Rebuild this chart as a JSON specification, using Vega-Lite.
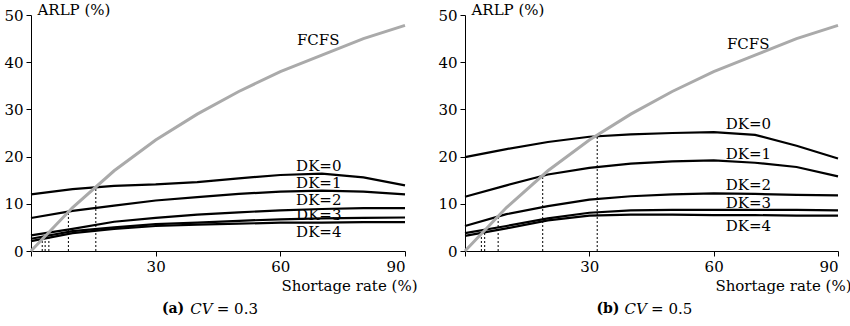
{
  "$schema": "https://vega.github.io/schema/vega-lite/v6.json",
  "padding": {"left": 3, "top": 2, "right": 2, "bottom": 2},
  "spacing": 20,
  "config": {
    "view": {"stroke": null},
    "font": "DejaVu Serif",
    "axis": {
      "domainColor": "black", "tickColor": "black", "labelColor": "black", "titleColor": "black",
      "labelFont": "DejaVu Serif", "titleFont": "DejaVu Serif", "labelFontSize": 15, "titleFontSize": 15,
      "titleFontWeight": "normal", "grid": false, "tickSize": 5, "labelPadding": 3, "domainWidth": 1, "tickWidth": 1
    },
    "text": {"font": "DejaVu Serif", "color": "black"}
  },
  "datasets": {
    "lines": [
      {"panel": "a", "series": "FCFS", "x": 0, "y": 0}, {"panel": "a", "series": "FCFS", "x": 10, "y": 9.2}, {"panel": "a", "series": "FCFS", "x": 20, "y": 17.0}, {"panel": "a", "series": "FCFS", "x": 30, "y": 23.5}, {"panel": "a", "series": "FCFS", "x": 40, "y": 29.0}, {"panel": "a", "series": "FCFS", "x": 50, "y": 33.8}, {"panel": "a", "series": "FCFS", "x": 60, "y": 38.0}, {"panel": "a", "series": "FCFS", "x": 70, "y": 41.5}, {"panel": "a", "series": "FCFS", "x": 80, "y": 45.0}, {"panel": "a", "series": "FCFS", "x": 90, "y": 47.8},
      {"panel": "a", "series": "DK=0", "x": 0, "y": 12.0}, {"panel": "a", "series": "DK=0", "x": 10, "y": 13.1}, {"panel": "a", "series": "DK=0", "x": 20, "y": 13.8}, {"panel": "a", "series": "DK=0", "x": 30, "y": 14.1}, {"panel": "a", "series": "DK=0", "x": 40, "y": 14.6}, {"panel": "a", "series": "DK=0", "x": 50, "y": 15.4}, {"panel": "a", "series": "DK=0", "x": 60, "y": 16.1}, {"panel": "a", "series": "DK=0", "x": 70, "y": 16.4}, {"panel": "a", "series": "DK=0", "x": 80, "y": 15.6}, {"panel": "a", "series": "DK=0", "x": 90, "y": 13.9},
      {"panel": "a", "series": "DK=1", "x": 0, "y": 7.0}, {"panel": "a", "series": "DK=1", "x": 10, "y": 8.5}, {"panel": "a", "series": "DK=1", "x": 20, "y": 9.6}, {"panel": "a", "series": "DK=1", "x": 30, "y": 10.7}, {"panel": "a", "series": "DK=1", "x": 40, "y": 11.4}, {"panel": "a", "series": "DK=1", "x": 50, "y": 12.1}, {"panel": "a", "series": "DK=1", "x": 60, "y": 12.6}, {"panel": "a", "series": "DK=1", "x": 70, "y": 12.8}, {"panel": "a", "series": "DK=1", "x": 80, "y": 12.6}, {"panel": "a", "series": "DK=1", "x": 90, "y": 12.0},
      {"panel": "a", "series": "DK=2", "x": 0, "y": 3.3}, {"panel": "a", "series": "DK=2", "x": 10, "y": 4.7}, {"panel": "a", "series": "DK=2", "x": 20, "y": 6.2}, {"panel": "a", "series": "DK=2", "x": 30, "y": 7.0}, {"panel": "a", "series": "DK=2", "x": 40, "y": 7.7}, {"panel": "a", "series": "DK=2", "x": 50, "y": 8.2}, {"panel": "a", "series": "DK=2", "x": 60, "y": 8.6}, {"panel": "a", "series": "DK=2", "x": 70, "y": 8.9}, {"panel": "a", "series": "DK=2", "x": 80, "y": 9.1}, {"panel": "a", "series": "DK=2", "x": 90, "y": 9.1},
      {"panel": "a", "series": "DK=3", "x": 0, "y": 2.6}, {"panel": "a", "series": "DK=3", "x": 10, "y": 4.2}, {"panel": "a", "series": "DK=3", "x": 20, "y": 5.0}, {"panel": "a", "series": "DK=3", "x": 30, "y": 5.7}, {"panel": "a", "series": "DK=3", "x": 40, "y": 6.0}, {"panel": "a", "series": "DK=3", "x": 50, "y": 6.4}, {"panel": "a", "series": "DK=3", "x": 60, "y": 6.7}, {"panel": "a", "series": "DK=3", "x": 70, "y": 6.9}, {"panel": "a", "series": "DK=3", "x": 80, "y": 7.0}, {"panel": "a", "series": "DK=3", "x": 90, "y": 7.1},
      {"panel": "a", "series": "DK=4", "x": 0, "y": 2.1}, {"panel": "a", "series": "DK=4", "x": 10, "y": 3.8}, {"panel": "a", "series": "DK=4", "x": 20, "y": 4.7}, {"panel": "a", "series": "DK=4", "x": 30, "y": 5.3}, {"panel": "a", "series": "DK=4", "x": 40, "y": 5.6}, {"panel": "a", "series": "DK=4", "x": 50, "y": 5.8}, {"panel": "a", "series": "DK=4", "x": 60, "y": 6.0}, {"panel": "a", "series": "DK=4", "x": 70, "y": 6.0}, {"panel": "a", "series": "DK=4", "x": 80, "y": 6.1}, {"panel": "a", "series": "DK=4", "x": 90, "y": 6.1},
      {"panel": "b", "series": "FCFS", "x": 0, "y": 0}, {"panel": "b", "series": "FCFS", "x": 10, "y": 9.2}, {"panel": "b", "series": "FCFS", "x": 20, "y": 17.0}, {"panel": "b", "series": "FCFS", "x": 30, "y": 23.5}, {"panel": "b", "series": "FCFS", "x": 40, "y": 29.0}, {"panel": "b", "series": "FCFS", "x": 50, "y": 33.8}, {"panel": "b", "series": "FCFS", "x": 60, "y": 38.0}, {"panel": "b", "series": "FCFS", "x": 70, "y": 41.5}, {"panel": "b", "series": "FCFS", "x": 80, "y": 45.0}, {"panel": "b", "series": "FCFS", "x": 90, "y": 47.8},
      {"panel": "b", "series": "DK=0", "x": 0, "y": 19.9}, {"panel": "b", "series": "DK=0", "x": 10, "y": 21.6}, {"panel": "b", "series": "DK=0", "x": 20, "y": 23.1}, {"panel": "b", "series": "DK=0", "x": 30, "y": 24.2}, {"panel": "b", "series": "DK=0", "x": 40, "y": 24.7}, {"panel": "b", "series": "DK=0", "x": 50, "y": 25.0}, {"panel": "b", "series": "DK=0", "x": 60, "y": 25.2}, {"panel": "b", "series": "DK=0", "x": 70, "y": 24.6}, {"panel": "b", "series": "DK=0", "x": 80, "y": 22.3}, {"panel": "b", "series": "DK=0", "x": 90, "y": 19.6},
      {"panel": "b", "series": "DK=1", "x": 0, "y": 11.5}, {"panel": "b", "series": "DK=1", "x": 10, "y": 13.9}, {"panel": "b", "series": "DK=1", "x": 20, "y": 16.2}, {"panel": "b", "series": "DK=1", "x": 30, "y": 17.6}, {"panel": "b", "series": "DK=1", "x": 40, "y": 18.5}, {"panel": "b", "series": "DK=1", "x": 50, "y": 19.0}, {"panel": "b", "series": "DK=1", "x": 60, "y": 19.2}, {"panel": "b", "series": "DK=1", "x": 70, "y": 18.7}, {"panel": "b", "series": "DK=1", "x": 80, "y": 17.8}, {"panel": "b", "series": "DK=1", "x": 90, "y": 15.8},
      {"panel": "b", "series": "DK=2", "x": 0, "y": 5.3}, {"panel": "b", "series": "DK=2", "x": 10, "y": 7.8}, {"panel": "b", "series": "DK=2", "x": 20, "y": 9.5}, {"panel": "b", "series": "DK=2", "x": 30, "y": 10.9}, {"panel": "b", "series": "DK=2", "x": 40, "y": 11.6}, {"panel": "b", "series": "DK=2", "x": 50, "y": 12.0}, {"panel": "b", "series": "DK=2", "x": 60, "y": 12.2}, {"panel": "b", "series": "DK=2", "x": 70, "y": 12.1}, {"panel": "b", "series": "DK=2", "x": 80, "y": 11.9}, {"panel": "b", "series": "DK=2", "x": 90, "y": 11.8},
      {"panel": "b", "series": "DK=3", "x": 0, "y": 3.8}, {"panel": "b", "series": "DK=3", "x": 10, "y": 5.3}, {"panel": "b", "series": "DK=3", "x": 20, "y": 6.9}, {"panel": "b", "series": "DK=3", "x": 30, "y": 8.1}, {"panel": "b", "series": "DK=3", "x": 40, "y": 8.6}, {"panel": "b", "series": "DK=3", "x": 50, "y": 8.7}, {"panel": "b", "series": "DK=3", "x": 60, "y": 8.7}, {"panel": "b", "series": "DK=3", "x": 70, "y": 8.7}, {"panel": "b", "series": "DK=3", "x": 80, "y": 8.7}, {"panel": "b", "series": "DK=3", "x": 90, "y": 8.6},
      {"panel": "b", "series": "DK=4", "x": 0, "y": 3.2}, {"panel": "b", "series": "DK=4", "x": 10, "y": 4.8}, {"panel": "b", "series": "DK=4", "x": 20, "y": 6.5}, {"panel": "b", "series": "DK=4", "x": 30, "y": 7.5}, {"panel": "b", "series": "DK=4", "x": 40, "y": 7.7}, {"panel": "b", "series": "DK=4", "x": 50, "y": 7.7}, {"panel": "b", "series": "DK=4", "x": 60, "y": 7.6}, {"panel": "b", "series": "DK=4", "x": 70, "y": 7.6}, {"panel": "b", "series": "DK=4", "x": 80, "y": 7.5}, {"panel": "b", "series": "DK=4", "x": 90, "y": 7.5}
    ],
    "drops": [
      {"panel": "a", "x": 2.7, "y": 2.5}, {"panel": "a", "x": 3.4, "y": 3.1}, {"panel": "a", "x": 4.3, "y": 4.0}, {"panel": "a", "x": 9.0, "y": 8.3}, {"panel": "a", "x": 15.6, "y": 13.5},
      {"panel": "b", "x": 3.95, "y": 3.6}, {"panel": "b", "x": 4.75, "y": 4.4}, {"panel": "b", "x": 8.0, "y": 7.4}, {"panel": "b", "x": 18.75, "y": 16.0}, {"panel": "b", "x": 31.9, "y": 24.5}
    ],
    "labels": [
      {"panel": "a", "text": "FCFS", "x": 64, "y": 44.7}, {"panel": "a", "text": "DK=0", "x": 63.8, "y": 18.1}, {"panel": "a", "text": "DK=1", "x": 63.8, "y": 14.4}, {"panel": "a", "text": "DK=2", "x": 63.8, "y": 10.9}, {"panel": "a", "text": "DK=3", "x": 63.8, "y": 7.7}, {"panel": "a", "text": "DK=4", "x": 63.8, "y": 4.0},
      {"panel": "b", "text": "FCFS", "x": 63.2, "y": 43.9}, {"panel": "b", "text": "DK=0", "x": 62.9, "y": 27.0}, {"panel": "b", "text": "DK=1", "x": 62.9, "y": 20.6}, {"panel": "b", "text": "DK=2", "x": 62.9, "y": 14.0}, {"panel": "b", "text": "DK=3", "x": 62.9, "y": 10.1}, {"panel": "b", "text": "DK=4", "x": 62.9, "y": 5.4}
    ],
    "captions": [
      {"panel": "a", "part": "tag", "text": "(a)", "x": 31.5, "y": -12.2}, {"panel": "a", "part": "var", "text": "CV", "x": 38.3, "y": -12.2}, {"panel": "a", "part": "val", "text": "= 0.3", "x": 44.7, "y": -12.2},
      {"panel": "b", "part": "tag", "text": "(b)", "x": 31.7, "y": -12.2}, {"panel": "b", "part": "var", "text": "CV", "x": 38.5, "y": -12.2}, {"panel": "b", "part": "val", "text": "= 0.5", "x": 44.9, "y": -12.2}
    ]
  },
  "hconcat": [
    {
      "width": 374, "height": 236,
      "encoding": {
        "x": {"field": "x", "type": "quantitative", "scale": {"domain": [0, 90], "nice": false},
          "axis": {"values": [0, 30, 60, 90], "labelExpr": "datum.value == 0 ? '' : datum.label", "title": "Shortage rate (%)", "titleAlign": "right", "titleAnchor": null, "titleX": 386, "titleY": 34, "titleBaseline": "middle"}},
        "y": {"field": "y", "type": "quantitative", "scale": {"domain": [0, 50], "nice": false},
          "axis": {"values": [0, 10, 20, 30, 40, 50], "title": "ARLP (%)", "titleAngle": 0, "titleAlign": "left", "titleBaseline": "alphabetic", "titleX": 6, "titleY": -1}}
      },
      "layer": [
        {"data": {"name": "drops"}, "transform": [{"filter": "datum.panel == 'a'"}], "mark": {"type": "rule", "color": "black", "strokeWidth": 1, "strokeDash": [2, 2]},
          "encoding": {"y": {"datum": 0, "type": "quantitative"}, "y2": {"field": "y"}}},
        {"data": {"name": "lines"}, "transform": [{"filter": "datum.panel == 'a' && datum.series != 'FCFS'"}], "mark": {"type": "line", "color": "black", "strokeWidth": 2.2},
          "encoding": {"detail": {"field": "series"}}},
        {"data": {"name": "lines"}, "transform": [{"filter": "datum.panel == 'a' && datum.series == 'FCFS'"}], "mark": {"type": "line", "color": "#aaaaaa", "strokeWidth": 3},
          "encoding": {}},
        {"data": {"name": "labels"}, "transform": [{"filter": "datum.panel == 'a'"}], "mark": {"type": "text", "align": "left", "baseline": "middle", "fontSize": 15, "font": "DejaVu Serif"},
          "encoding": {"text": {"field": "text"}}},
        {"data": {"name": "captions"}, "transform": [{"filter": "datum.panel == 'a' && datum.part == 'tag'"}], "mark": {"type": "text", "align": "left", "baseline": "middle", "fontSize": 14, "fontWeight": "bold", "font": "DejaVu Serif"},
          "encoding": {"text": {"field": "text"}}},
        {"data": {"name": "captions"}, "transform": [{"filter": "datum.panel == 'a' && datum.part == 'var'"}], "mark": {"type": "text", "align": "left", "baseline": "middle", "fontSize": 15, "fontStyle": "italic", "font": "DejaVu Serif"},
          "encoding": {"text": {"field": "text"}}},
        {"data": {"name": "captions"}, "transform": [{"filter": "datum.panel == 'a' && datum.part == 'val'"}], "mark": {"type": "text", "align": "left", "baseline": "middle", "fontSize": 15, "font": "DejaVu Serif"},
          "encoding": {"text": {"field": "text"}}}
      ]
    },
    {
      "width": 373, "height": 236,
      "encoding": {
        "x": {"field": "x", "type": "quantitative", "scale": {"domain": [0, 90], "nice": false},
          "axis": {"values": [0, 30, 60, 90], "labelExpr": "datum.value == 0 ? '' : datum.label", "title": "Shortage rate (%)", "titleAlign": "right", "titleAnchor": null, "titleX": 386, "titleY": 34, "titleBaseline": "middle"}},
        "y": {"field": "y", "type": "quantitative", "scale": {"domain": [0, 50], "nice": false},
          "axis": {"values": [0, 10, 20, 30, 40, 50], "title": "ARLP (%)", "titleAngle": 0, "titleAlign": "left", "titleBaseline": "alphabetic", "titleX": 6, "titleY": -1}}
      },
      "layer": [
        {"data": {"name": "drops"}, "transform": [{"filter": "datum.panel == 'b'"}], "mark": {"type": "rule", "color": "black", "strokeWidth": 1, "strokeDash": [2, 2]},
          "encoding": {"y": {"datum": 0, "type": "quantitative"}, "y2": {"field": "y"}}},
        {"data": {"name": "lines"}, "transform": [{"filter": "datum.panel == 'b' && datum.series != 'FCFS'"}], "mark": {"type": "line", "color": "black", "strokeWidth": 2.2},
          "encoding": {"detail": {"field": "series"}}},
        {"data": {"name": "lines"}, "transform": [{"filter": "datum.panel == 'b' && datum.series == 'FCFS'"}], "mark": {"type": "line", "color": "#aaaaaa", "strokeWidth": 3},
          "encoding": {}},
        {"data": {"name": "labels"}, "transform": [{"filter": "datum.panel == 'b'"}], "mark": {"type": "text", "align": "left", "baseline": "middle", "fontSize": 15, "font": "DejaVu Serif"},
          "encoding": {"text": {"field": "text"}}},
        {"data": {"name": "captions"}, "transform": [{"filter": "datum.panel == 'b' && datum.part == 'tag'"}], "mark": {"type": "text", "align": "left", "baseline": "middle", "fontSize": 14, "fontWeight": "bold", "font": "DejaVu Serif"},
          "encoding": {"text": {"field": "text"}}},
        {"data": {"name": "captions"}, "transform": [{"filter": "datum.panel == 'b' && datum.part == 'var'"}], "mark": {"type": "text", "align": "left", "baseline": "middle", "fontSize": 15, "fontStyle": "italic", "font": "DejaVu Serif"},
          "encoding": {"text": {"field": "text"}}},
        {"data": {"name": "captions"}, "transform": [{"filter": "datum.panel == 'b' && datum.part == 'val'"}], "mark": {"type": "text", "align": "left", "baseline": "middle", "fontSize": 15, "font": "DejaVu Serif"},
          "encoding": {"text": {"field": "text"}}}
      ]
    }
  ]
}
